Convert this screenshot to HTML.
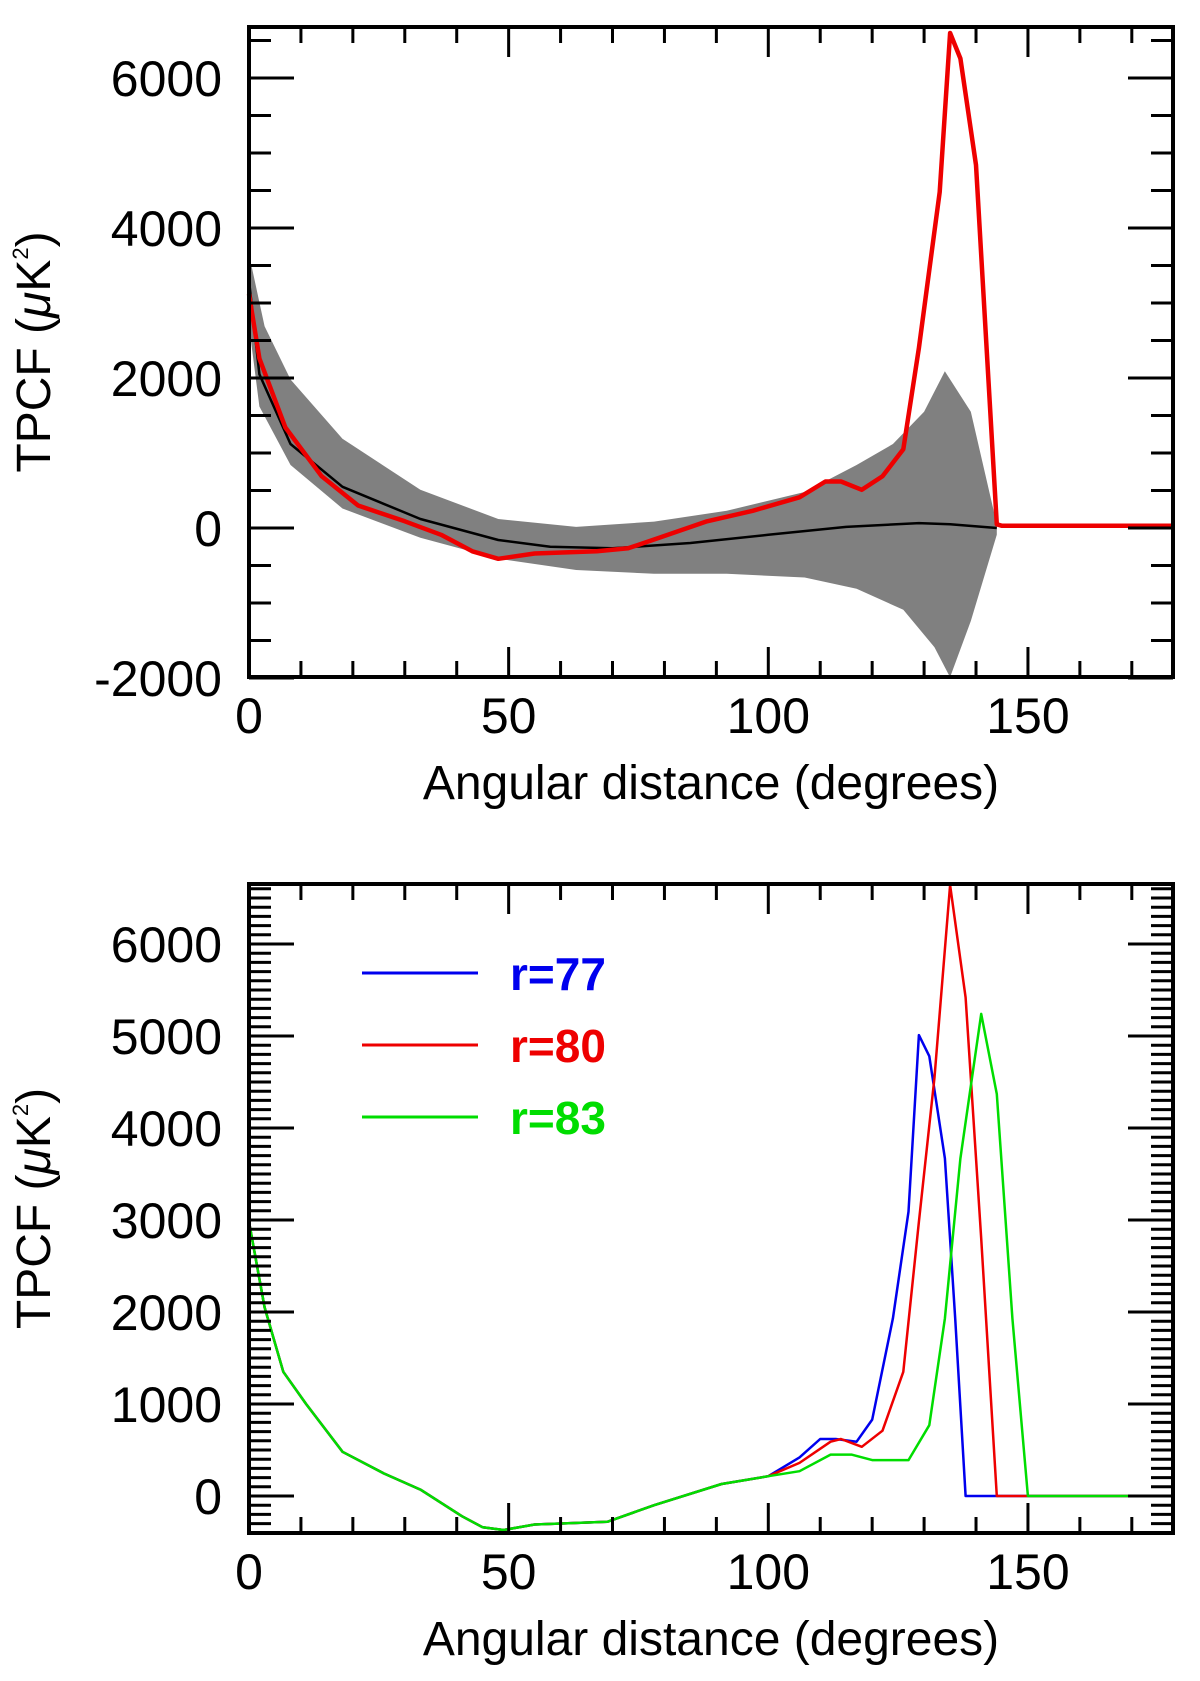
<!DOCTYPE html>
<html><head><meta charset="utf-8"><style>
body{margin:0;background:#fff}
svg text{font-family:"Liberation Sans",sans-serif;fill:#000}
</style></head><body>
<svg id="c" width="1200" height="1676" xmlns="http://www.w3.org/2000/svg"></svg>
<script>
// Top panel data
const topRedX=[0,2,7,14,21,30,37,43,48,55,67,73,79,88,97,106,111,114,118,122,126,129,133,135,137,140,144,145,178];
const topRedY=[3120,2260,1340,690,300,90,-90,-310,-410,-340,-310,-270,-130,85,230,410,620,620,510,690,1050,2400,4480,6600,6260,4840,50,30,30];
const topMeanX=[0,2,8,18,33,48,58,70,85,100,115,129,135,144];
const topMeanY=[3300,2050,1120,550,120,-160,-250,-270,-200,-90,15,65,50,0];
const bandUpX=[0,3,8,18,33,48,63,78,92,107,117,124,130,134,139,144];
const bandUpY=[3650,2690,1980,1190,510,120,15,85,230,480,840,1120,1550,2090,1550,50];
const bandLoX=[0,2,8,18,33,48,63,78,92,107,117,126,132,135,139,144];
const bandLoY=[2700,1620,840,260,-130,-410,-560,-610,-610,-660,-810,-1090,-1590,-1990,-1240,-90];
const topTicks=[6000,4000,2000,0,-2000];
const xTicks=[0,50,100,150];
// Bottom panel data
const lowX=[0,3,6.6,11,18,26,33,41,45,49,55,69,78,91,100];
const lowY=[2980,2050,1350,1000,480,245,70,-220,-340,-370,-310,-280,-100,130,215];
const blueX=[106,110,113,117,120,124,127,129,131,134,136,138,170];
const blueY=[420,620,620,590,830,1930,3090,5010,4780,3670,1930,0,0];
const redX=[106,112,114,118,122,126,129,132,135,138,141,144,170];
const redY=[360,590,620,535,710,1350,2980,4550,6640,5420,2800,0,0];
const greenX=[106,112,116,120,127,131,134,137,141,144,147,150,170];
const greenY=[270,450,450,390,390,770,1930,3670,5240,4370,1930,0,0];
const botTicks=[0,1000,2000,3000,4000,5000,6000];
const legendLabels=["r=77","r=80","r=83"];
const legendColors=["#0000ee","#ee0000","#00dd00"];

const NS="http://www.w3.org/2000/svg";
const svg=document.getElementById('c');
function mk(t,a,p){const e=document.createElementNS(NS,t);for(const k in a)e.setAttribute(k,a[k]);(p||svg).appendChild(e);return e;}
const L=249,R=1173;
const sx=d=>L+d*5.193;
function line(xs,ys,sy,color,w,name){
  let d='';xs.forEach((x,i)=>{d+=(i?'L':'M')+sx(x).toFixed(1)+','+sy(ys[i]).toFixed(1);});
  const p=mk('path',{d:d,fill:'none',stroke:color,'stroke-width':w,'stroke-linejoin':'round'});
  
  
}
function axes(T,B,sy,vmin,vmax,major,minor,labels,name){
  const g=mk('g',{});
  
  
  mk('rect',{x:L,y:T,width:R-L,height:B-T,fill:'none',stroke:'#000','stroke-width':4},g);
  for(let d=0;d<=178;d+=10){const x=sx(d);const len=d%50===0?30:16;
    mk('line',{x1:x,y1:B,x2:x,y2:B-len,stroke:'#000','stroke-width':3},g);
    mk('line',{x1:x,y1:T,x2:x,y2:T+len,stroke:'#000','stroke-width':3},g);}
  for(let v=Math.ceil(vmin/minor)*minor;v<=vmax;v+=minor){const y=sy(v);const len=v%major===0?45:22;
    mk('line',{x1:L,y1:y,x2:L+len,y2:y,stroke:'#000','stroke-width':3},g);
    mk('line',{x1:R,y1:y,x2:R-len,y2:y,stroke:'#000','stroke-width':3},g);}
  labels.forEach(v=>{const t=mk('text',{x:222,y:sy(v)+18,'text-anchor':'end','font-size':50},g);t.textContent=v;
    
    });
  xTicks.forEach(v=>{const t=mk('text',{x:sx(v),y:B+56,'text-anchor':'middle','font-size':50},g);t.textContent=v;
    
    });
  const xt=mk('text',{x:711,y:B+122,'text-anchor':'middle','font-size':48},g);xt.textContent='Angular distance (degrees)';
  
  
  const cy=(T+B)/2;
  const yt=mk('text',{x:0,y:0,'text-anchor':'middle','font-size':48,transform:`translate(50,${cy}) rotate(-90)`},g);
  yt.innerHTML='TPCF (<tspan font-style="italic">μ</tspan>K<tspan font-size="22" dy="-22">2</tspan><tspan dy="22">)</tspan>';
  
  
}
// top panel
const T1=27,B1=677;const sy1=v=>528-v*0.075;
let bd='';bandUpX.forEach((x,i)=>{bd+=(i?'L':'M')+sx(x)+','+sy1(bandUpY[i]);});
for(let i=bandLoX.length-1;i>=0;i--)bd+='L'+sx(bandLoX[i])+','+sy1(bandLoY[i]);
const band=mk('path',{d:bd+'Z',fill:'#808080'});


line(topMeanX,topMeanY,sy1,'#000',2.5,'mean-line');
line(topRedX,topRedY,sy1,'#ee0000',4.5,'data-line-red');
axes(T1,B1,sy1,-2000,6680,2000,500,topTicks,'top-panel-axes');
// bottom panel
const T2=884,B2=1533;const sy2=v=>1496-v*0.092;
line(lowX.concat(blueX),lowY.concat(blueY),sy2,'#0000ee',2.5,'line-r77');
line(lowX.concat(redX),lowY.concat(redY),sy2,'#ee0000',2.5,'line-r80');
line(lowX.concat(greenX),lowY.concat(greenY),sy2,'#00dd00',2.5,'line-r83');
axes(T2,B2,sy2,-400,6650,1000,100,botTicks,'bottom-panel-axes');
legendLabels.forEach((lab,i)=>{const y=973+i*72;
  const g=mk('g',{});
  
  
  mk('line',{x1:362,y1:y,x2:478,y2:y,stroke:legendColors[i],'stroke-width':3},g);
  const t=mk('text',{x:510,y:y+17,'font-size':46,'font-weight':'bold',style:'fill:'+legendColors[i]},g);t.textContent=lab;});
</script>
</body></html>
